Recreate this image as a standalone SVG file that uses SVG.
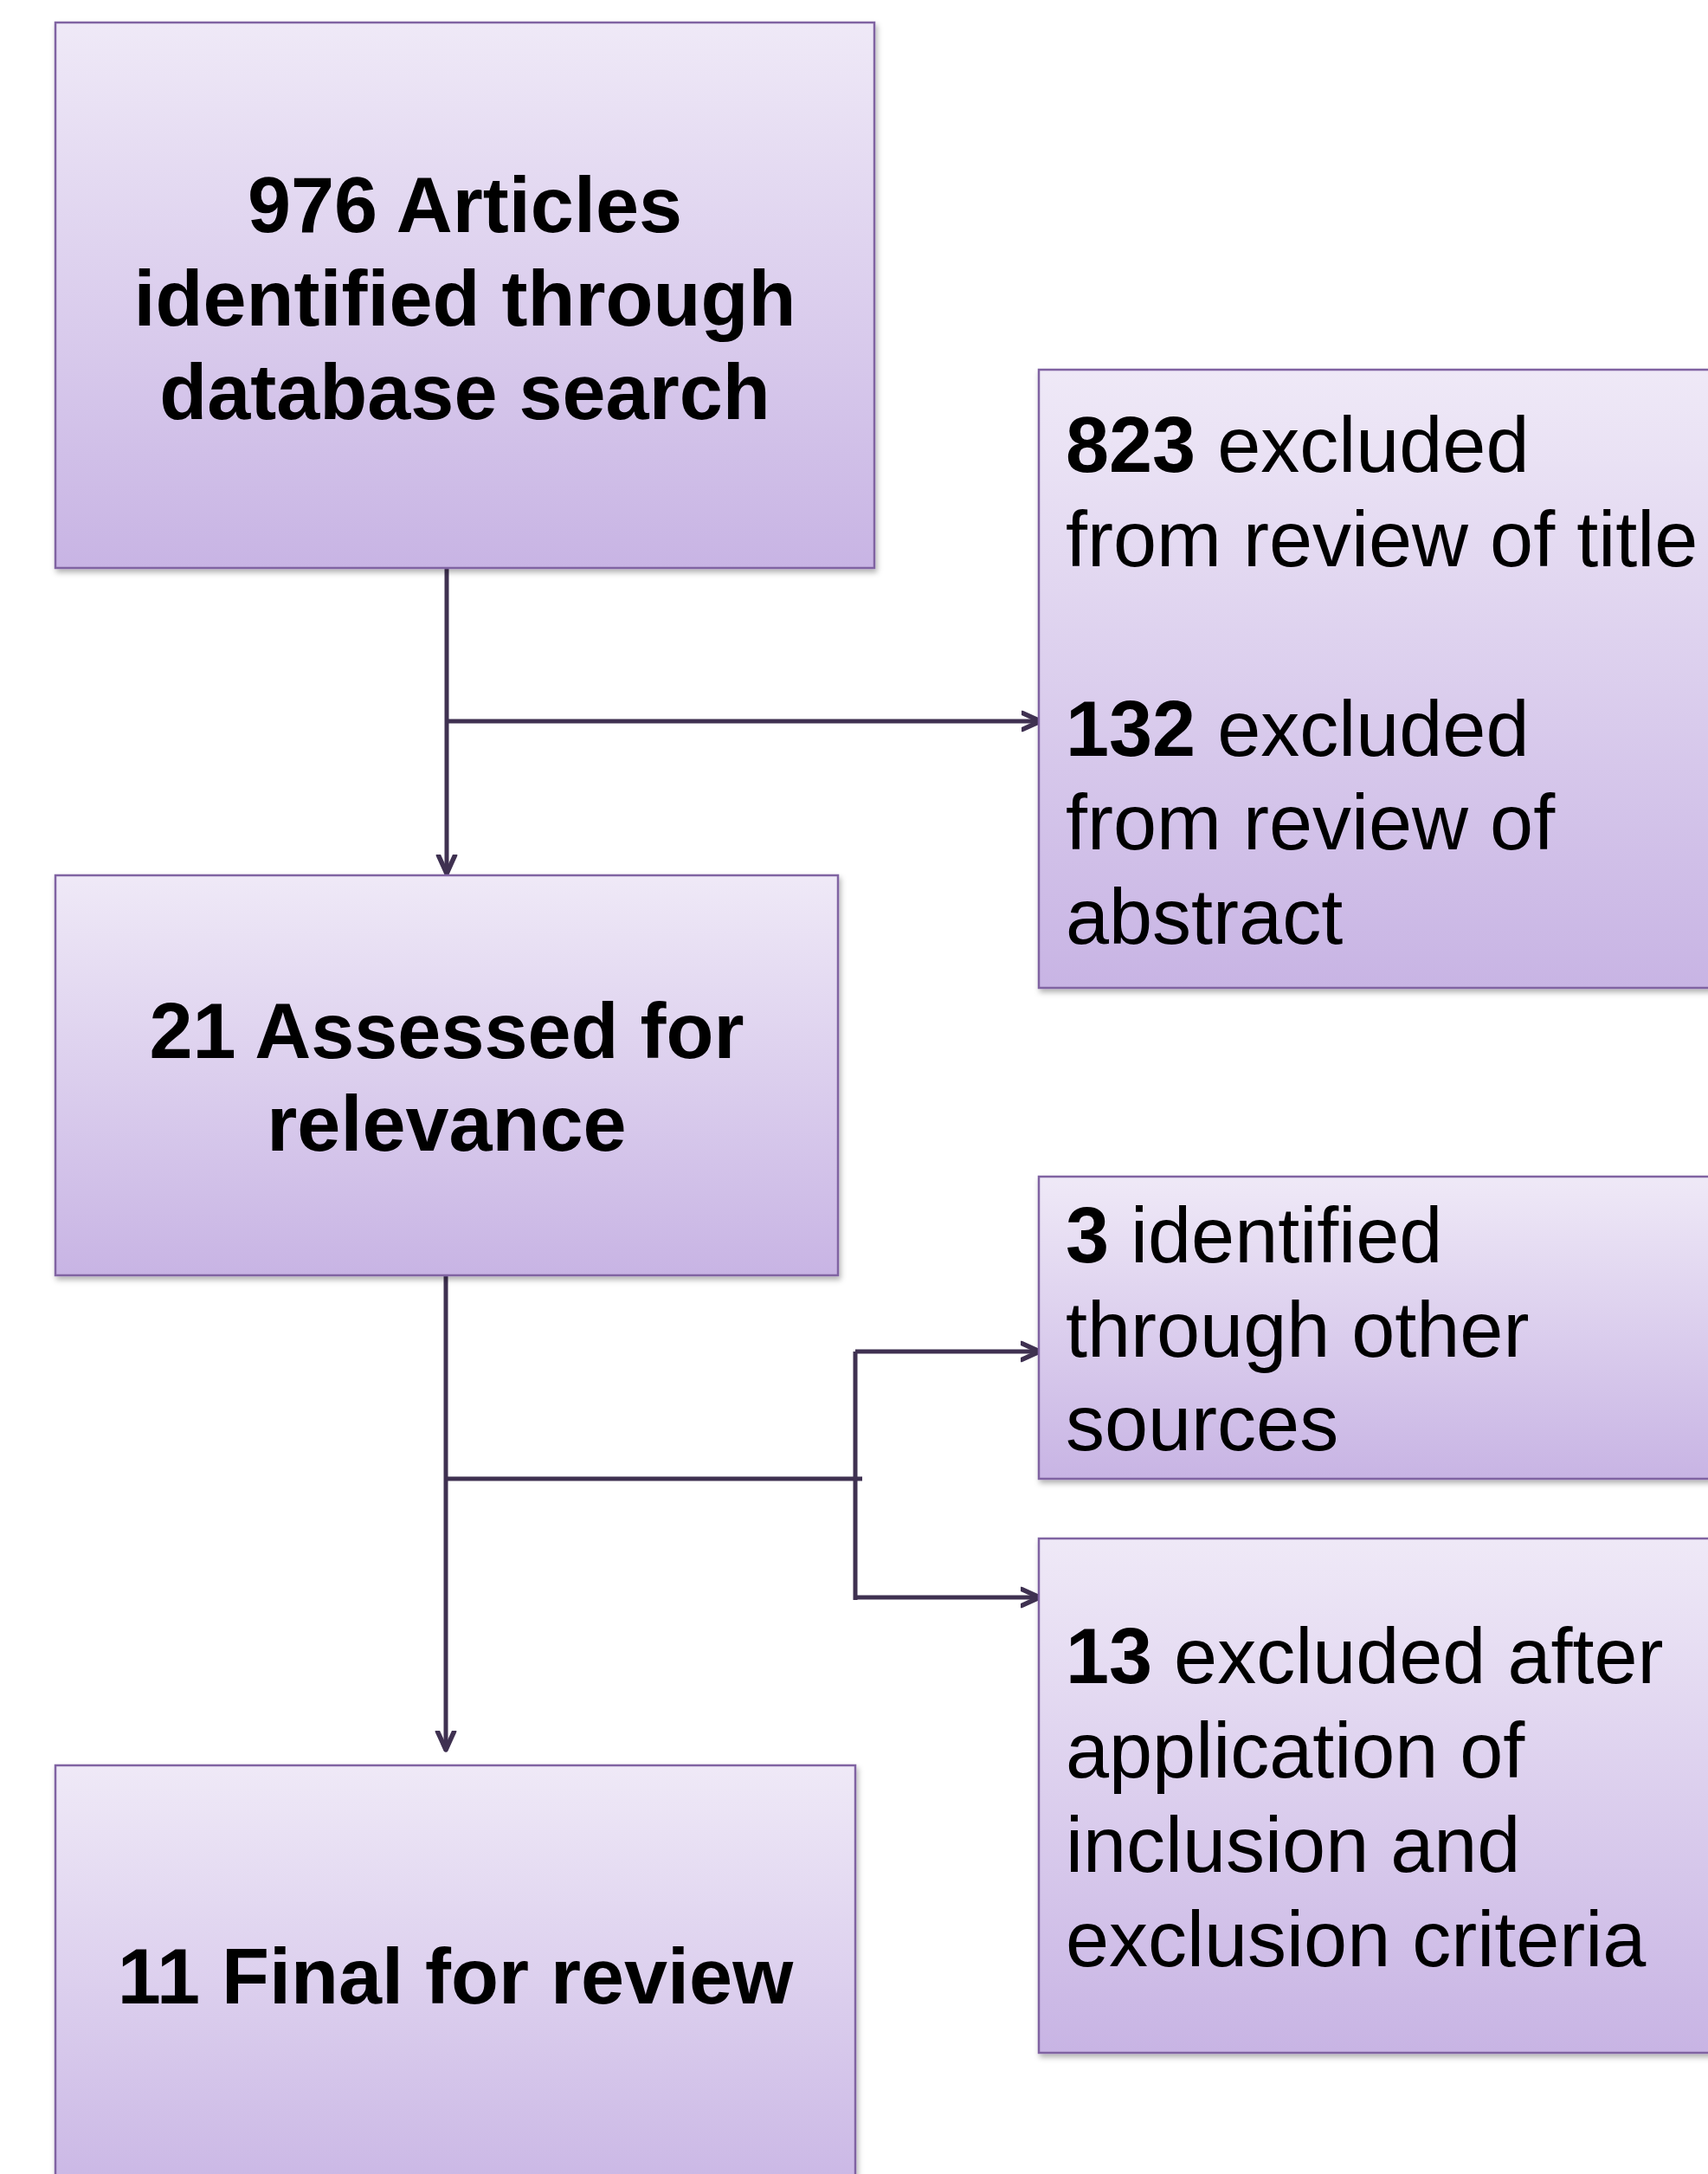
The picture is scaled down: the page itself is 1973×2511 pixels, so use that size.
<svg xmlns="http://www.w3.org/2000/svg" width="1973" height="2511" viewBox="0 0 1973 2511">
<defs>
<linearGradient id="g" x1="0" y1="0" x2="0" y2="1">
<stop offset="0" stop-color="#efe9f7"/>
<stop offset="1" stop-color="#c8b4e4"/>
</linearGradient>
<filter id="sh" x="-5%" y="-5%" width="110%" height="115%">
<feDropShadow dx="2" dy="4" stdDeviation="3" flood-color="#000" flood-opacity="0.3"/>
</filter>
<marker id="ah" markerUnits="userSpaceOnUse" markerWidth="30" markerHeight="30" refX="22" refY="11" orient="auto" viewBox="0 0 30 22">
<path d="M1,1.5 L22,11 L1,20.5" fill="none" stroke="#3f3151" stroke-width="5.5" stroke-linecap="round" stroke-linejoin="round"/>
</marker>
</defs>
<style>
.box{fill:url(#g);stroke:#8064a2;stroke-width:2.5;filter:url(#sh)}
.tb{font-family:"Liberation Sans",Arial,sans-serif;font-size:90px;font-weight:bold;fill:#000;text-anchor:middle}
.tr{font-family:"Liberation Sans",Arial,sans-serif;font-size:90px;fill:#000}
.b{font-weight:bold}
.con{fill:none;stroke:#3f3151;stroke-width:5}
</style>
<rect width="1973" height="2511" fill="#fff"/>
<g id="connectors">
<path class="con" d="M516,657 L516,1009" marker-end="url(#ah)"/>
<path class="con" d="M516,833 L1202,833" marker-end="url(#ah)"/>
<path class="con" d="M515,1473 L515,2021" marker-end="url(#ah)"/>
<path class="con" d="M515,1708 L996,1708"/>
<path class="con" d="M988,1561 L988,1848"/>
<path class="con" d="M988,1561 L1201,1561" marker-end="url(#ah)"/>
<path class="con" d="M988,1845 L1201,1845" marker-end="url(#ah)"/>
</g>
<g id="n1">
<rect class="box" x="64" y="26" width="946" height="630"/>
<text class="tb" x="537" y="268">976 Articles</text>
<text class="tb" x="537" y="376">identified through</text>
<text class="tb" x="537" y="484">database search</text>
</g>
<g id="n2">
<rect class="box" x="1200" y="427" width="800" height="714"/>
<text class="tr" x="1231" y="545"><tspan class="b">823</tspan> excluded</text>
<text class="tr" x="1231" y="654">from review of title</text>
<text class="tr" x="1231" y="873"><tspan class="b">132</tspan> excluded</text>
<text class="tr" x="1231" y="981">from review of</text>
<text class="tr" x="1231" y="1090">abstract</text>
</g>
<g id="n3">
<rect class="box" x="64" y="1011" width="904" height="462"/>
<text class="tb" x="516" y="1222">21 Assessed for</text>
<text class="tb" x="516" y="1329">relevance</text>
</g>
<g id="n4">
<rect class="box" x="1200" y="1359" width="800" height="349"/>
<text class="tr" x="1231" y="1458"><tspan class="b">3</tspan> identified</text>
<text class="tr" x="1231" y="1567">through other</text>
<text class="tr" x="1231" y="1675">sources</text>
</g>
<g id="n5">
<rect class="box" x="1200" y="1777" width="800" height="594"/>
<text class="tr" x="1231" y="1944"><tspan class="b">13</tspan> excluded after</text>
<text class="tr" x="1231" y="2053">application of</text>
<text class="tr" x="1231" y="2162">inclusion and</text>
<text class="tr" x="1231" y="2271">exclusion criteria</text>
</g>
<g id="n6">
<rect class="box" x="64" y="2039" width="924" height="520"/>
<text class="tb" x="526" y="2314">11 Final for review</text>
</g>
</svg>
